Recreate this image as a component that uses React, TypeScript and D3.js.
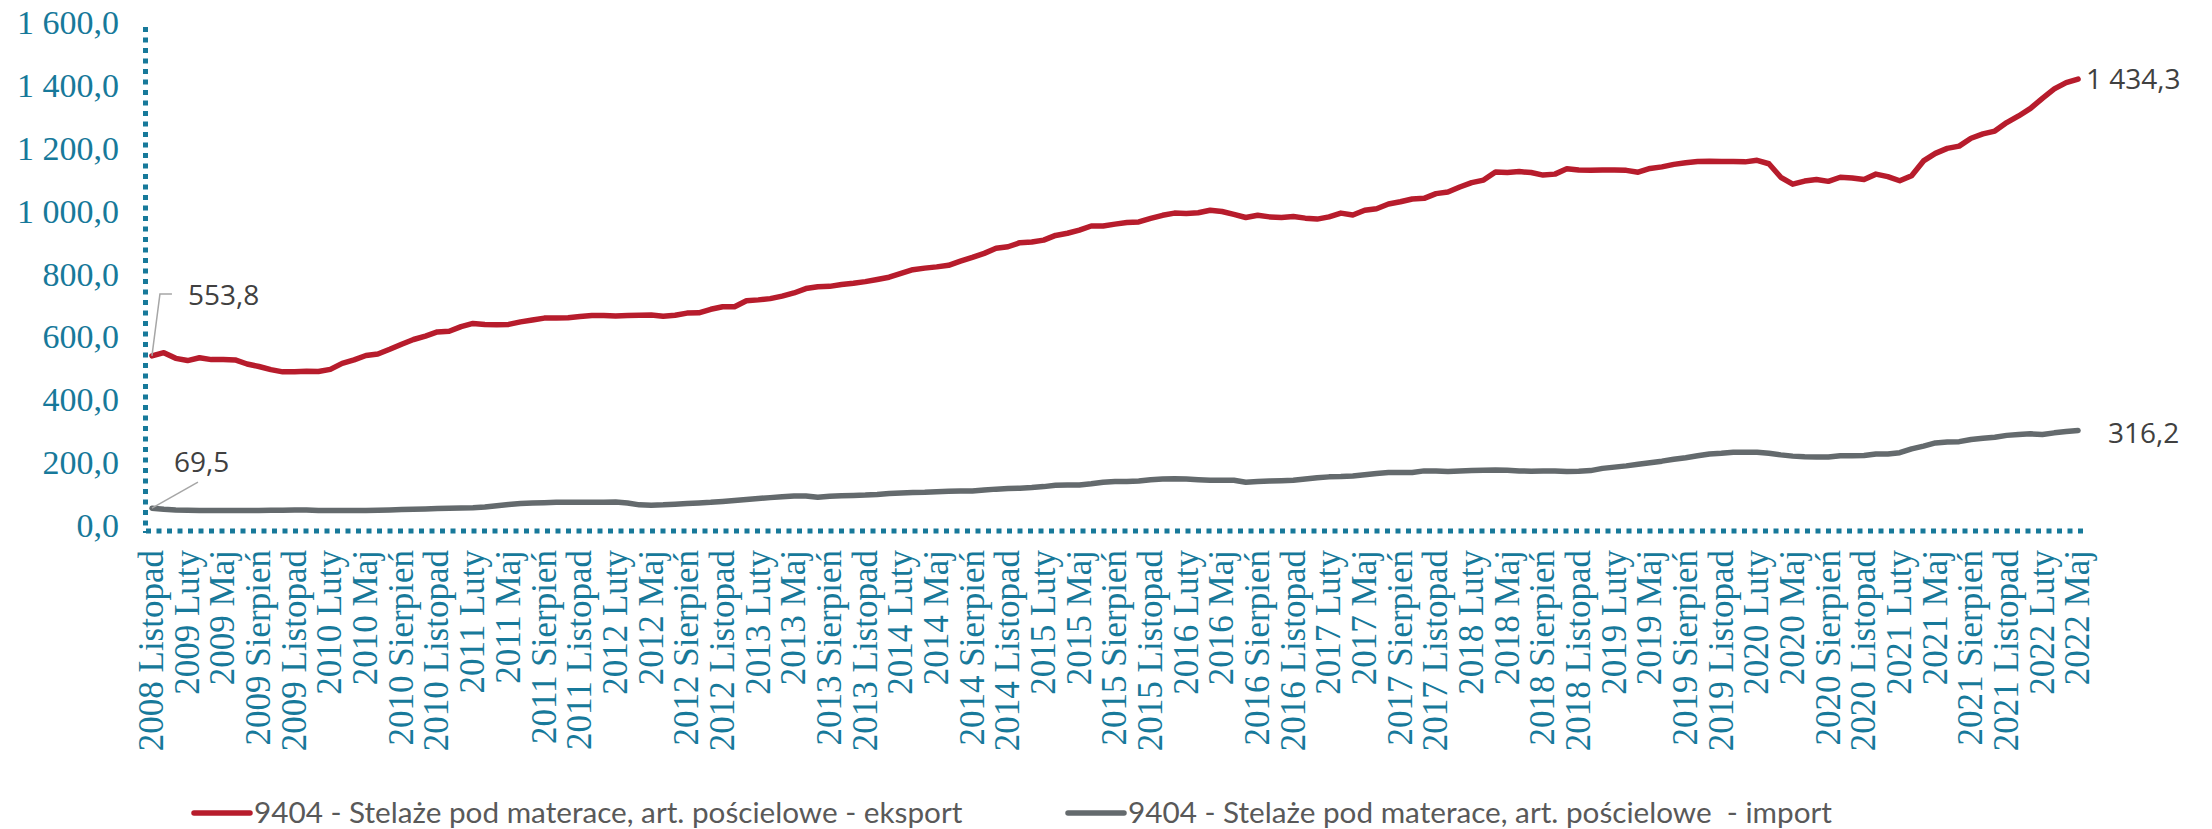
import { useMemo } from 'react'
import * as d3 from 'd3'

const W = 2212
const H = 829

const MONTH_NAMES = [
  'Styczeń', 'Luty', 'Marzec', 'Kwiecień', 'Maj', 'Czerwiec',
  'Lipiec', 'Sierpień', 'Wrzesień', 'Październik', 'Listopad', 'Grudzień',
]
const START_YEAR = 2008
const START_MONTH = 10 // Listopad (0-based)
const N_MONTHS = 163
const LABEL_EVERY = 3

// eksport, mln
const EXPORT = [
  553.8, 564, 546, 539, 548, 542, 542, 541, 528, 520,
  510, 503, 503, 505, 504, 511, 530, 541, 555, 560,
  575, 591, 606, 617, 630, 632, 647, 657, 654, 653,
  654, 662, 668, 674, 674, 675, 679, 682, 682, 681,
  682, 683, 684, 680, 683, 690, 691, 702, 710, 710,
  729, 732, 736, 744, 754, 768, 774, 775, 781, 785,
  790, 797, 804, 816, 828, 833, 837, 842, 855, 867,
  880, 896, 901, 914, 916, 922, 937, 944, 954, 967,
  967, 973, 978, 980, 991, 1001, 1008, 1007, 1009, 1017,
  1013, 1004, 994, 1001, 996, 994, 997, 992, 989, 996,
  1008, 1002, 1017, 1022, 1037, 1044, 1053, 1055, 1070, 1075,
  1091, 1105, 1113, 1139, 1137, 1140, 1137, 1129, 1132, 1149,
  1145, 1144, 1145, 1145, 1144, 1138, 1150, 1155, 1163, 1168,
  1172, 1173, 1172, 1172, 1171, 1176, 1165, 1122, 1100, 1110,
  1115, 1109, 1122, 1120, 1115, 1132, 1124, 1111, 1127, 1174,
  1198, 1214, 1221, 1246, 1260, 1269, 1296, 1317, 1341, 1373,
  1403, 1423, 1434.3,
]

// import
const IMPORT = [
  69.5, 66, 64, 63, 62, 62, 62, 62, 62, 62,
  63, 63, 64, 64, 62, 62, 62, 62, 62, 63,
  64, 65, 66, 67, 68, 69, 70, 71, 73, 77,
  81, 84, 86, 87, 88, 88, 88, 88, 88, 89,
  86, 80, 79, 80, 82, 84, 86, 88, 91, 94,
  97, 100, 103, 106, 108, 108, 104, 107, 109, 110,
  111, 113, 116, 118, 119, 120, 122, 123, 124, 124,
  127, 130, 132, 133, 135, 138, 142, 143, 143, 147,
  152, 154, 154, 156, 160, 162, 163, 162, 160, 158,
  158, 158, 152, 154, 156, 157, 158, 162, 166, 169,
  170, 172, 176, 180, 183, 183, 183, 188, 188, 186,
  188, 189, 190, 191, 190, 188, 187, 188, 188, 186,
  187, 189, 196, 200, 204, 209, 214, 219, 225, 230,
  236, 242, 244, 247, 247, 247, 244, 239, 235, 233,
  232, 232, 236, 236, 237, 242, 242, 246, 258, 267,
  277, 280, 281, 288, 292, 295, 301, 304, 306, 304,
  309, 313, 316.2,
]

const Y_TICKS = [0, 200, 400, 600, 800, 1000, 1200, 1400, 1600]

const SERIES = [
  { name: '9404 - Stelaże pod materace, art. pościelowe - eksport', values: EXPORT, color: '#B71C2C' },
  { name: '9404 - Stelaże pod materace, art. pościelowe  - import', values: IMPORT, color: '#646A6D' },
]

const TEAL = '#17799A'
const LABEL_GREY = '#404040'
const LEGEND_GREY = '#595959'
const SERIF = '"Liberation Serif", "Times New Roman", serif'
const SANS = 'Lato, "Open Sans", sans-serif'
const NUM_SANS = '"Open Sans", Lato, sans-serif'

const plNum = d3.formatLocale({ decimal: ',', thousands: '\u00a0', grouping: [3], currency: ['', ' zł'] })
const fmt = plNum.format(',.1f')

const categories = Array.from({ length: N_MONTHS }, (_, i) => {
  const m = START_MONTH + i
  return `${START_YEAR + Math.floor(m / 12)} ${MONTH_NAMES[m % 12]}`
})

export default function App() {
  const x = useMemo(
    () => d3.scaleBand<string>().domain(categories).range([146, 2084]),
    [],
  )
  const y = useMemo(() => d3.scaleLinear().domain([0, 1600]).range([530, 27]), [])
  const cx = (c: string) => (x(c) ?? 0) + x.bandwidth() / 2

  const line = d3.line<number>()
    .x((_, i) => cx(categories[i]))
    .y((d) => y(d))

  const last = N_MONTHS - 1
  const lastX = cx(categories[last])
  const firstX = cx(categories[0])

  return (
    <div style={{ position: 'absolute', left: 0, top: 0, background: '#fff' }}>
      <svg width={W} height={H} style={{ display: 'block' }}>
        <rect width={W} height={H} fill="#fff" />

        {/* axes (dotted) */}
        <line x1={145.5} x2={145.5} y1={y(1600)} y2={533} stroke={TEAL} strokeWidth={5} strokeDasharray="5 5.5" />
        <line x1={146} x2={2084} y1={531} y2={531} stroke={TEAL} strokeWidth={5} strokeDasharray="5 5.5" />

        {/* y tick labels */}
        {Y_TICKS.map((t) => (
          <text
            key={t}
            x={119}
            y={y(t) + 7}
            textAnchor="end"
            fill={TEAL}
            style={{ fontFamily: SERIF, fontSize: 34 }}
          >
            {fmt(t)}
          </text>
        ))}

        {/* x tick labels */}
        {categories.map((c, i) =>
          i % LABEL_EVERY === 0 ? (
            <text
              key={c}
              transform={`translate(${cx(c)},550) rotate(-90)`}
              textAnchor="end"
              dy="0.32em"
              fill={TEAL}
              style={{ fontFamily: SERIF, fontSize: 35 }}
            >
              {c}
            </text>
          ) : null,
        )}

        {/* series */}
        {SERIES.map((s) => (
          <path
            key={s.name}
            d={line(s.values) ?? ''}
            fill="none"
            stroke={s.color}
            strokeWidth={5.5}
            strokeLinejoin="round"
            strokeLinecap="round"
          />
        ))}

        {/* data labels with leader lines */}
        <polyline
          points={`${firstX},${y(EXPORT[0])} ${firstX + 8},${y(EXPORT[0]) - 62} ${firstX + 20},${y(EXPORT[0]) - 62}`}
          fill="none"
          stroke="#A6A6A6"
          strokeWidth={1.5}
        />
        <text x={188} y={y(EXPORT[0]) - 51} fill={LABEL_GREY} style={{ fontFamily: NUM_SANS, fontSize: 28 }}>
          {fmt(EXPORT[0])}
        </text>
        <line
          x1={firstX}
          y1={y(IMPORT[0])}
          x2={firstX + 46}
          y2={y(IMPORT[0]) - 26}
          stroke="#A6A6A6"
          strokeWidth={1.5}
        />
        <text x={174} y={y(IMPORT[0]) - 36} fill={LABEL_GREY} style={{ fontFamily: NUM_SANS, fontSize: 28 }}>
          {fmt(IMPORT[0])}
        </text>
        <text x={lastX + 8} y={y(EXPORT[last]) + 10} fill={LABEL_GREY} style={{ fontFamily: NUM_SANS, fontSize: 28 }}>
          {fmt(EXPORT[last])}
        </text>
        <text x={lastX + 30} y={y(IMPORT[last]) + 12} fill={LABEL_GREY} style={{ fontFamily: NUM_SANS, fontSize: 28 }}>
          {fmt(IMPORT[last])}
        </text>

        {/* legend */}
        {SERIES.map((s, i) => {
          const lx = i === 0 ? 194 : 1068
          return (
            <g key={s.name}>
              <line x1={lx} x2={lx + 56} y1={813} y2={813} stroke={s.color} strokeWidth={5.5} strokeLinecap="round" />
              <text x={lx + 60} y={823} fill={LEGEND_GREY} style={{ fontFamily: SANS, fontSize: 29.7, whiteSpace: 'pre' }}>
                {s.name}
              </text>
            </g>
          )
        })}
      </svg>
    </div>
  )
}
